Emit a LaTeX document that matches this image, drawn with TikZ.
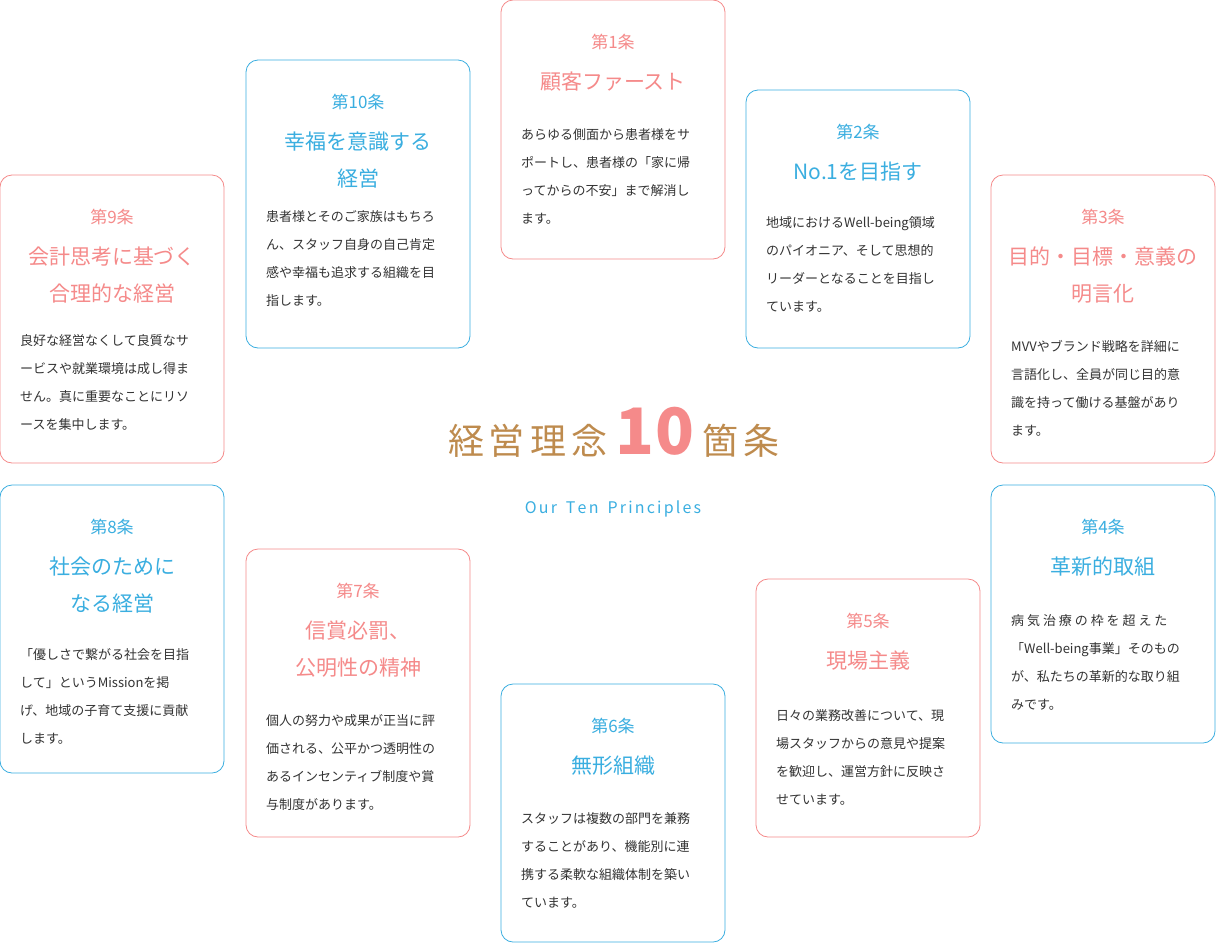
\documentclass[tikz,border=0pt]{standalone}
\usepackage{fontspec}
\setmainfont{Noto Sans CJK JP}
\definecolor{pk}{HTML}{F58A8A}
\definecolor{bl}{HTML}{3AAEE0}
\definecolor{br}{HTML}{BE8B4E}
\definecolor{tx}{HTML}{333333}
\tikzset{card/.style={draw=#1,line width=0.8pt,rounded corners=12pt,fill=white},
 lab/.style={text=#1,font=\fontsize{17}{17}\selectfont,anchor=mid,inner sep=0},
 ttl/.style={text=#1,font=\fontsize{21}{21}\selectfont,anchor=mid,inner sep=0},
 bod/.style={text=tx,font=\fontsize{13}{13}\selectfont,anchor=mid west,inner sep=0}}
% #1 name #2 left #3 top #4 bottom #5 color #6 label #7 title list #8 body offset #9 body list
\newcommand\prin[9]{%
 \draw[card=#5] (#2,#3) rectangle (#2+224,#4);
 \node[inner sep=0] (#1) at ({#2+112},{(#3+#4)/2}) {};
 \node[lab=#5] (#1l) at ({#2+112},{#3+46}) {#6};
 \foreach \t [count=\i] in {#7} {\node[ttl=#5] at ({#2+112},{#3+87+(\i-1)*37}) {\t};}
 \foreach \t [count=\i] in {#9} {\node[bod] at ({#2+20},{#3+#8+5+(\i-1)*28}) {\t};}
}
\newcommand\tsp{\hspace{5pt}}
\begin{document}
\begin{tikzpicture}[x=1pt,y=-1pt]
\useasboundingbox (0,0) rectangle (1216,943);
\prin{p1}{501}{0}{259}{pk}{第1条}{顧客ファースト}{132}{あらゆる側面から患者様をサ,ポートし、患者様の「家に帰,ってからの不安」まで解消し,ます。}
\prin{p10}{246}{60}{348}{bl}{第10条}{幸福を意識する,経営}{154}{患者様とそのご家族はもちろ,ん、スタッフ自身の自己肯定,感や幸福も追求する組織を目,指します。}
\prin{p2}{746}{90}{348}{bl}{第2条}{No.1を目指す}{130}{地域におけるWell-being領域,のパイオニア、そして思想的,リーダーとなることを目指し,ています。}
\prin{p9}{0}{175}{463}{pk}{第9条}{会計思考に基づく,合理的な経営}{163}{良好な経営なくして良質なサ,ービスや就業環境は成し得ま,せん。真に重要なことにリソ,ースを集中します。}
\prin{p3}{991}{175}{463}{pk}{第3条}{目的・目標・意義の,明言化}{169}{MVVやブランド戦略を詳細に,言語化し、全員が同じ目的意,識を持って働ける基盤があり,ます。}
\prin{p8}{0}{485}{773}{bl}{第8条}{社会のために,なる経営}{167}{「優しさで繋がる社会を目指,して」というMissionを掲,げ、地域の子育て支援に貢献,します。}
\prin{p4}{991}{485}{743}{bl}{第4条}{革新的取組}{133}{病 気 治 療 の 枠 を 超 え た,「Well-being事業」そのもの,が、私たちの革新的な取り組,みです。}
\prin{p7}{246}{549}{837}{pk}{第7条}{信賞必罰、,公明性の精神}{169}{個人の努力や成果が正当に評,価される、公平かつ透明性の,あるインセンティブ制度や賞,与制度があります。}
\prin{p5}{756}{579}{837}{pk}{第5条}{現場主義}{134}{日々の業務改善について、現,場スタッフからの意見や提案,を歓迎し、運営方針に反映さ,せています。}
\prin{p6}{501}{684}{942}{bl}{第6条}{無形組織}{132}{スタッフは複数の部門を兼務,することがあり、機能別に連,携する柔軟な組織体制を築い,ています。}
\node[inner sep=0,anchor=mid] (title) at (614,452) {\fontsize{36}{36}\selectfont\color{br}経\tsp 営\tsp 理\tsp 念\hspace{8pt}\textcolor{pk}{\fontsize{64}{64}\selectfont\bfseries 1\hspace{2pt}0}\hspace{8pt}箇\tsp 条};
\node[inner sep=0,anchor=mid,text=bl] (sub) at (613,511) {\fontsize{16}{16}\selectfont O\hspace{2.2pt}u\hspace{2.2pt}r\hspace{9pt}T\hspace{2.2pt}e\hspace{2.2pt}n\hspace{9pt}P\hspace{2.2pt}r\hspace{2.2pt}i\hspace{2.2pt}n\hspace{2.2pt}c\hspace{2.2pt}i\hspace{2.2pt}p\hspace{2.2pt}l\hspace{2.2pt}e\hspace{2.2pt}s};
\end{tikzpicture}
\end{document}
